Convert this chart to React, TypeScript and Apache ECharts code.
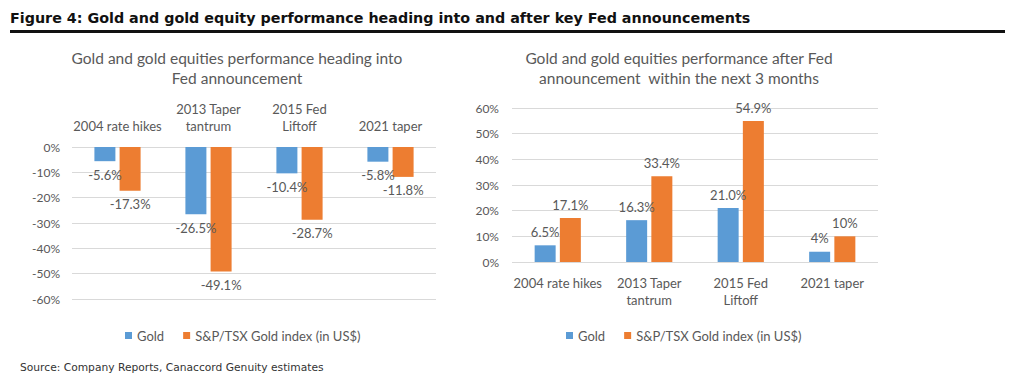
import React, { useEffect, useRef } from "react";
import * as echarts from "echarts";

const categories = ["2004 rate hikes", "2013 Taper\ntantrum", "2015 Fed\nLiftoff", "2021 taper"];
const seriesNames = ["Gold", "S&P/TSX Gold index (in US$)"];

const goldBefore = [-5.6, -26.5, -10.4, -5.8];
const indexBefore = [-17.3, -49.1, -28.7, -11.8];
const goldBeforeLabels = ["-5.6%", "-26.5%", "-10.4%", "-5.8%"];
const indexBeforeLabels = ["-17.3%", "-49.1%", "-28.7%", "-11.8%"];

const goldAfter = [6.5, 16.3, 21.0, 4];
const indexAfter = [17.1, 33.4, 54.9, 10];
const goldAfterLabels = ["6.5%", "16.3%", "21.0%", "4%"];
const indexAfterLabels = ["17.1%", "33.4%", "54.9%", "10%"];

const headerText = "Figure 4: Gold and gold equity performance heading into and after key Fed announcements";
const leftTitle = "Gold and gold equities performance heading into\nFed announcement";
const rightTitle = "Gold and gold equities performance after Fed\nannouncement  within the next 3 months";
const sourceText = "Source: Company Reports, Canaccord Genuity estimates";

const BLUE = "#5B9BD5";
const ORANGE = "#ED7D31";
const GRAY = "#595959";
const FONT = "Lato";

export default function App() {
  const ref = useRef<HTMLDivElement>(null);
  useEffect(() => {
    if (!ref.current) return;
    const chart = echarts.init(ref.current, null, { renderer: "svg" });
    const labelStyle = (labels: string[], pos: string) => ({
      show: true,
      position: pos,
      distance: 7,
      color: GRAY,
      fontFamily: FONT,
      fontSize: 13,
      formatter: (p: any) => labels[p.dataIndex],
    });
    chart.setOption({
      animation: false,
      backgroundColor: "#ffffff",
      textStyle: { fontFamily: FONT, color: GRAY },
      graphic: [
        {
          type: "text",
          left: 10,
          top: 11,
          style: { text: headerText, font: "bold 14.3px 'DejaVu Sans'", fill: "#111111" },
        },
        {
          type: "rect",
          shape: { x: 10, y: 30, width: 995, height: 3 },
          style: { fill: "#111111" },
        },
        {
          type: "text",
          x: 237,
          y: 48,
          style: {
            text: leftTitle,
            font: `15.5px ${FONT}`,
            fill: GRAY,
            align: "center",
            lineHeight: 20,
          },
        },
        {
          type: "text",
          x: 679,
          y: 48,
          style: {
            text: rightTitle,
            font: `15.5px ${FONT}`,
            fill: GRAY,
            align: "center",
            lineHeight: 20,
          },
        },
        {
          type: "text",
          left: 20,
          top: 362,
          style: { text: sourceText, font: "10.7px 'DejaVu Sans'", fill: "#333333" },
        },
      ],
      legend: [
        {
          data: seriesNames,
          left: 120,
          top: 324,
          icon: "rect",
          itemWidth: 7,
          itemHeight: 7,
          itemGap: 19,
          textStyle: { color: GRAY, fontFamily: FONT, fontSize: 13 },
        },
        {
          data: seriesNames,
          left: 561,
          top: 324,
          icon: "rect",
          itemWidth: 7,
          itemHeight: 7,
          itemGap: 19,
          textStyle: { color: GRAY, fontFamily: FONT, fontSize: 13 },
        },
      ],
      grid: [
        { left: 72, right: 588, top: 147, bottom: 83, containLabel: false },
        { left: 512, right: 146, top: 108, bottom: 120, containLabel: false },
      ],
      xAxis: [
        {
          type: "category",
          gridIndex: 0,
          position: "top",
          data: categories,
          axisLine: { show: false },
          axisTick: { show: false },
          axisLabel: { color: GRAY, fontFamily: FONT, fontSize: 13, margin: 13, lineHeight: 17, interval: 0 },
        },
        {
          type: "category",
          gridIndex: 1,
          position: "bottom",
          data: categories,
          axisLine: { show: false },
          axisTick: { show: false },
          axisLabel: { color: GRAY, fontFamily: FONT, fontSize: 13, margin: 12, lineHeight: 17, interval: 0 },
        },
      ],
      yAxis: [
        {
          type: "value",
          gridIndex: 0,
          min: -60,
          max: 0,
          interval: 10,
          axisLine: { show: false },
          axisTick: { show: false },
          splitLine: { lineStyle: { color: "#D9D9D9", width: 1 } },
          axisLabel: { color: GRAY, fontFamily: FONT, fontSize: 12, margin: 12, formatter: "{value}%" },
        },
        {
          type: "value",
          gridIndex: 1,
          min: 0,
          max: 60,
          interval: 10,
          axisLine: { show: false },
          axisTick: { show: false },
          splitLine: { lineStyle: { color: "#D9D9D9", width: 1 } },
          axisLabel: { color: GRAY, fontFamily: FONT, fontSize: 12, margin: 13, formatter: "{value}%" },
        },
      ],
      series: [
        {
          name: seriesNames[0],
          type: "bar",
          xAxisIndex: 0,
          yAxisIndex: 0,
          data: goldBefore,
          barWidth: 21,
          barGap: "20%",
          itemStyle: { color: BLUE },
          label: labelStyle(goldBeforeLabels, "bottom"),
        },
        {
          name: seriesNames[1],
          type: "bar",
          xAxisIndex: 0,
          yAxisIndex: 0,
          data: indexBefore,
          barWidth: 21,
          barGap: "20%",
          itemStyle: { color: ORANGE },
          label: labelStyle(indexBeforeLabels, "bottom"),
        },
        {
          name: seriesNames[0],
          type: "bar",
          xAxisIndex: 1,
          yAxisIndex: 1,
          data: goldAfter,
          barWidth: 21,
          barGap: "20%",
          itemStyle: { color: BLUE },
          label: labelStyle(goldAfterLabels, "top"),
        },
        {
          name: seriesNames[1],
          type: "bar",
          xAxisIndex: 1,
          yAxisIndex: 1,
          data: indexAfter,
          barWidth: 21,
          barGap: "20%",
          itemStyle: { color: ORANGE },
          label: labelStyle(indexAfterLabels, "top"),
        },
      ],
    });
    return () => chart.dispose();
  }, []);
  return (
    <div
      ref={ref}
      style={{ position: "absolute", left: 0, top: 0, width: 1024, height: 382 }}
    />
  );
}
